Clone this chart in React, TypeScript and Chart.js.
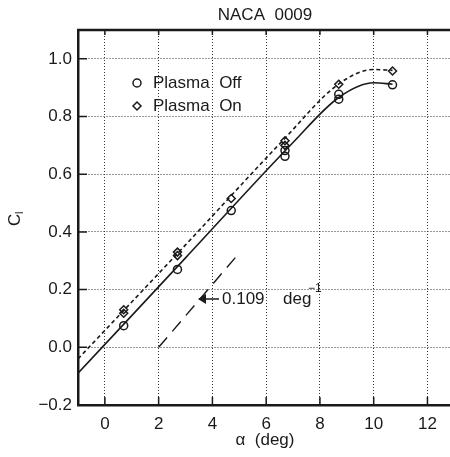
import React, { useEffect, useRef } from "react";
import { Chart, registerables } from "chart.js";

Chart.register(...registerables);

const alphaOff = [0.7, 2.7, 4.7, 6.7, 6.7, 8.7, 8.7, 10.7];
const clOff = [0.075, 0.27, 0.474, 0.662, 0.682, 0.86, 0.877, 0.91];
const alphaOn = [0.7, 0.7, 2.7, 2.7, 4.7, 6.7, 6.7, 8.7, 10.7];
const clOn = [0.118, 0.13, 0.318, 0.33, 0.516, 0.7, 0.716, 0.912, 0.958];

const fitOffAlpha = [-1, 3, 7, 8.7, 10, 10.7];
const fitOffCl = [-0.09, 0.31, 0.71, 0.866, 0.917, 0.912];
const fitOnAlpha = [-1, 3, 6.6, 8.7, 10, 10.7];
const fitOnCl = [-0.04, 0.355, 0.715, 0.913, 0.963, 0.96];
const slopeAlpha = [2, 5];
const slopeCl = [0, 0.327];

const xTicks = [0, 2, 4, 6, 8, 10, 12];
const yTicks = [-0.2, 0, 0.2, 0.4, 0.6, 0.8, 1.0];

const titleText = "NACA  0009";
const xTitle = "\u03b1  (deg)";
const legendOff = "Plasma  Off";
const legendOn = "Plasma  On";
const slopeLabel = "0.109";

const FONT = "'Liberation Sans', Arial, Helvetica, sans-serif";
const INK = "#1a1a1a";

const pts = (xs: number[], ys: number[]) => xs.map((x, i) => ({ x, y: ys[i] }));

const decor = {
  id: "decor",
  afterDraw(chart: any) {
    const ctx = chart.ctx;
    const { left, right, top, bottom } = chart.chartArea;
    const xs = chart.scales.x;
    const ys = chart.scales.y;
    ctx.save();
    ctx.strokeStyle = INK;
    ctx.fillStyle = INK;
    ctx.lineWidth = 2.5;
    ctx.beginPath();
    ctx.moveTo(left - 1, top);
    ctx.lineTo(right + 2, top);
    ctx.stroke();
    ctx.lineWidth = 1.5;
    ctx.beginPath();
    xTicks.forEach((v) => {
      const px = xs.getPixelForValue(v);
      ctx.moveTo(px, bottom);
      ctx.lineTo(px, bottom - 8);
      ctx.moveTo(px, top);
      ctx.lineTo(px, top + 5);
    });
    yTicks.forEach((v) => {
      const py = ys.getPixelForValue(v);
      ctx.moveTo(left, py);
      ctx.lineTo(left + 9, py);
    });
    ctx.stroke();

    ctx.font = `17px ${FONT}`;
    ctx.textAlign = "center";
    ctx.textBaseline = "middle";
    ctx.fillText(titleText, 265, 15);
    ctx.fillText(xTitle, 265, 440);

    ctx.save();
    ctx.translate(15, 220);
    ctx.rotate(-Math.PI / 2);
    ctx.textAlign = "left";
    ctx.textBaseline = "middle";
    ctx.font = `17px ${FONT}`;
    ctx.fillText("C", -6, 0);
    ctx.font = `11px ${FONT}`;
    ctx.fillText("l", 6, 5);
    ctx.restore();

    ctx.lineWidth = 1.5;
    ctx.beginPath();
    ctx.arc(137, 83, 4, 0, Math.PI * 2);
    ctx.stroke();
    ctx.beginPath();
    ctx.moveTo(137, 102);
    ctx.lineTo(141, 106);
    ctx.lineTo(137, 110);
    ctx.lineTo(133, 106);
    ctx.closePath();
    ctx.stroke();
    ctx.font = `17px ${FONT}`;
    ctx.textAlign = "left";
    ctx.textBaseline = "middle";
    ctx.fillText(legendOff, 153, 83);
    ctx.fillText(legendOn, 153, 106);

    ctx.lineWidth = 1.5;
    ctx.beginPath();
    ctx.moveTo(219, 299);
    ctx.lineTo(199, 299);
    ctx.stroke();
    ctx.beginPath();
    ctx.moveTo(198, 299);
    ctx.lineTo(206, 294);
    ctx.lineTo(206, 304);
    ctx.closePath();
    ctx.fill();
    ctx.fillText(slopeLabel, 222, 299);
    ctx.fillText("deg", 283, 299);
    ctx.font = `12px ${FONT}`;
    ctx.fillText("\u22121", 308, 289);
    ctx.restore();
  },
};

export default function App() {
  const ref = useRef<HTMLCanvasElement | null>(null);
  useEffect(() => {
    if (!ref.current) return;
    const chart = new Chart(ref.current, {
      type: "scatter",
      data: {
        datasets: [
          { label: "fitOff", data: pts(fitOffAlpha, fitOffCl), showLine: true, borderColor: INK, borderWidth: 1.6, pointRadius: 0, cubicInterpolationMode: "monotone" },
          { label: "fitOn", data: pts(fitOnAlpha, fitOnCl), showLine: true, borderColor: INK, borderWidth: 1.6, borderDash: [4, 3], pointRadius: 0, cubicInterpolationMode: "monotone" },
          { label: "slope", data: pts(slopeAlpha, slopeCl), showLine: true, borderColor: INK, borderWidth: 1.4, borderDash: [13, 8], pointRadius: 0 },
          { label: "Plasma Off", data: pts(alphaOff, clOff), pointStyle: "circle", pointRadius: 4, pointBorderWidth: 1.5, borderColor: INK, backgroundColor: "rgba(255,255,255,0)" },
          { label: "Plasma On", data: pts(alphaOn, clOn), pointStyle: "rectRot", pointRadius: 4, pointBorderWidth: 1.5, borderColor: INK, backgroundColor: "rgba(255,255,255,0)" },
        ],
      },
      options: {
        animation: false,
        responsive: true,
        maintainAspectRatio: false,
        layout: { padding: { top: 30, right: 1, left: 0, bottom: 0 } },
        plugins: { legend: { display: false }, title: { display: false }, tooltip: { enabled: false } },
        scales: {
          x: {
            type: "linear",
            min: -1,
            max: 12.82,
            afterBuildTicks: (s: any) => { s.ticks = xTicks.map((v) => ({ value: v })); },
            afterFit: (s: any) => { s.height = 52; },
            ticks: { padding: 9, color: INK, font: { family: FONT, size: 17 }, callback: (v: any) => String(v) },
            grid: { color: "#333", lineWidth: 1, drawTicks: false },
            border: { display: true, color: INK, width: 2.5, dash: [1, 2] },
          },
          y: {
            type: "linear",
            min: -0.2,
            max: 1.1,
            afterBuildTicks: (s: any) => { s.ticks = yTicks.map((v) => ({ value: v })); },
            afterFit: (s: any) => { s.width = 78; },
            ticks: { padding: 6, color: INK, font: { family: FONT, size: 17 }, callback: (v: any) => Number(v).toFixed(1).replace("-", "\u2212") },
            grid: { color: "#333", lineWidth: 1, drawTicks: false },
            border: { display: true, color: INK, width: 2.5, dash: [1, 2] },
          },
        },
      },
      plugins: [decor],
    } as any);
    return () => chart.destroy();
  }, []);
  return (
    <div style={{ position: "fixed", left: 0, top: 0, width: 450, height: 457, overflow: "hidden", background: "#fff" }}>
      <div style={{ position: "relative", width: 455, height: 457 }}>
        <canvas ref={ref} />
      </div>
    </div>
  );
}
